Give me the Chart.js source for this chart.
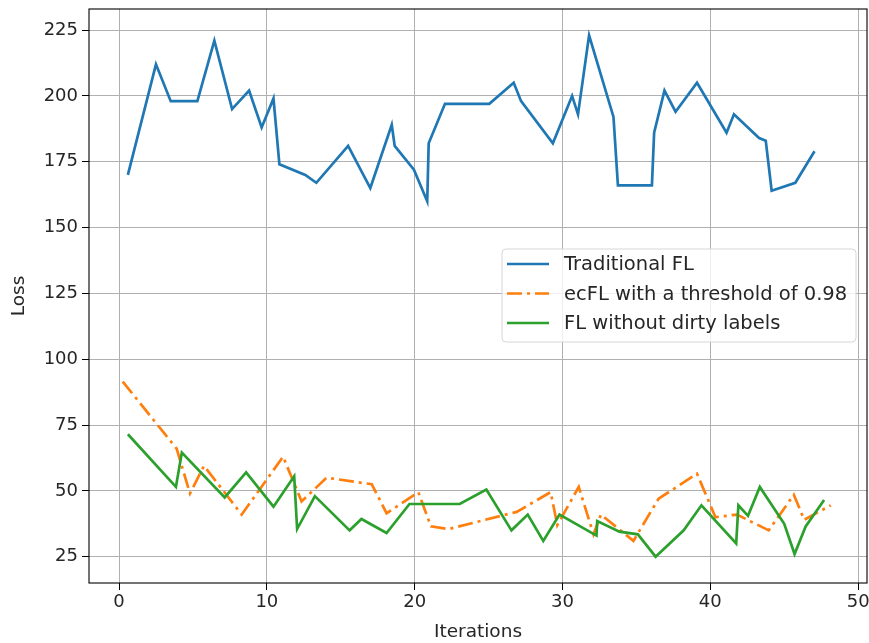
<!DOCTYPE html>
<html>
<head>
<meta charset="utf-8">
<script src="https://cdn.jsdelivr.net/npm/chart.js@4"></script>
<style>
  html, body { margin: 0; padding: 0; background: #fff; }
  #wrap { width: 869px; height: 643px; }
</style>
</head>
<body>
<div id="wrap"><canvas id="lossChart" width="869" height="643"></canvas></div>
<script>
// dati
const blueX = [0.6, 2.5, 3.5, 5.3, 6.45, 7.65, 8.8, 9.65, 10.45, 10.85, 12.6, 13.35, 15.5, 17.0, 18.45, 18.65, 19.95, 20.85, 20.95, 22.05, 25.05, 26.7, 27.2, 29.35, 30.65, 31.05, 31.8, 33.45, 33.75, 36.05, 36.2, 36.9, 37.65, 39.1, 41.1, 41.6, 43.3, 43.75, 44.15, 45.75, 47.05];
const blueY = [170, 212, 198, 198, 221, 195, 202, 188, 199, 174, 170, 167, 181, 165, 189, 181, 172, 160, 182, 197, 197, 205, 198, 182, 200, 193, 223, 192, 166, 166, 186, 202, 194, 205, 186, 193, 184, 183, 164, 167, 179];

const orangeX = [0.25, 3.9, 4.8, 5.75, 8.3, 11.1, 12.35, 14.05, 17.1, 18.1, 20.25, 21.1, 22.3, 26.9, 29.2, 29.65, 31.1, 32.1, 32.6, 34.8, 36.5, 39.1, 40.35, 41.8, 43.95, 45.65, 46.35, 48.15];
const orangeY = [91.5, 66, 49, 59.5, 41, 63, 46, 55, 52.5, 41.5, 49.5, 36.5, 35.5, 42, 49.5, 37, 51.5, 33.5, 41, 31, 47, 56.5, 40, 41, 35, 48.5, 39, 44.5];

const greenX = [0.6, 3.85, 4.25, 7.15, 8.6, 10.45, 11.85, 12.05, 13.25, 15.6, 16.4, 18.1, 19.65, 23.05, 24.85, 26.55, 27.65, 28.7, 29.8, 32.3, 32.35, 33.85, 35.1, 36.3, 38.2, 39.4, 41.75, 41.9, 42.55, 43.35, 45.0, 45.7, 46.45, 47.7];
const greenY = [71.5, 51.5, 64.5, 47.5, 57, 44, 55.5, 35.5, 48, 35, 39.3, 34, 45, 45, 50.5, 35, 41, 31, 41, 33, 38.5, 34.5, 33.5, 25, 35, 44.5, 30, 44.5, 40.5, 51.5, 37.5, 26, 36.5, 46.5];

const seriesNames = ['Traditional FL', 'ecFL with a threshold of 0.98', 'FL without dirty labels'];
const xTicks = [0, 10, 20, 30, 40, 50];
const yTicks = [25, 50, 75, 100, 125, 150, 175, 200, 225];

const colori = ['#1f77b4', '#ff7f0e', '#2ca02c'];
const dashDot = [15, 5, 3, 5];
const font = 'DejaVu Sans';

function punti(xs, ys) {
  return xs.map((x, i) => ({ x: x, y: ys[i] }));
}

// cornice completa + legenda stile matplotlib
const framePlugin = {
  id: 'frame',
  afterDraw: (chart) => {
    const ctx = chart.ctx;
    const a = chart.chartArea;
    ctx.save();
    ctx.strokeStyle = '#000';
    ctx.lineWidth = 1.1;
    ctx.strokeRect(a.left, a.top, a.right - a.left, a.bottom - a.top);

    // legenda
    const lx = 502, ly = 249, lw = 354, lh = 93, r = 4;
    ctx.globalAlpha = 0.8;
    ctx.fillStyle = '#fff';
    ctx.beginPath();
    ctx.roundRect(lx, ly, lw, lh, r);
    ctx.fill();
    ctx.globalAlpha = 1;
    ctx.strokeStyle = '#d6d6d6';
    ctx.lineWidth = 1;
    ctx.stroke();

    const rows = [264, 293.5, 323];
    ctx.font = '19.5px "' + font + '"';
    ctx.textBaseline = 'middle';
    rows.forEach((y, i) => {
      ctx.strokeStyle = colori[i];
      ctx.lineWidth = 2.7;
      ctx.setLineDash(i === 1 ? dashDot : []);
      ctx.beginPath();
      ctx.moveTo(507, y);
      ctx.lineTo(549, y);
      ctx.stroke();
      ctx.setLineDash([]);
      ctx.fillStyle = '#262626';
      ctx.fillText(seriesNames[i], 564, y + 1);
    });
    ctx.restore();
  }
};

let ctx = document.getElementById('lossChart').getContext('2d');

let myChart = new Chart(ctx, {
  type: 'line',
  data: {
    datasets: [
      { label: seriesNames[0], data: punti(blueX, blueY), borderColor: colori[0], borderWidth: 2.7, order: 2 },
      { label: seriesNames[1], data: punti(orangeX, orangeY), borderColor: colori[1], borderWidth: 2.7, borderDash: dashDot, order: 1 },
      { label: seriesNames[2], data: punti(greenX, greenY), borderColor: colori[2], borderWidth: 2.7, order: 0 }
    ]
  },
  options: {
    responsive: false,
    animation: false,
    devicePixelRatio: 1,
    layout: { padding: { left: 0, right: 2, top: 9, bottom: 0 } },
    elements: {
      point: { radius: 0 },
      line: { tension: 0, fill: false, borderJoinStyle: 'miter' }
    },
    plugins: {
      legend: { display: false },
      tooltip: { enabled: false }
    },
    scales: {
      x: {
        type: 'linear',
        min: -2.03,
        max: 50.6,
        afterBuildTicks: (s) => { s.ticks = xTicks.map(v => ({ value: v })); },
        afterFit: (s) => { s.height = 60; s.paddingLeft = 0; s.paddingRight = 0; },
        grid: { color: '#b0b0b0', lineWidth: 1, tickColor: '#000', tickLength: 7 },
        border: { display: false },
        ticks: { font: { family: font, size: 18 }, color: '#262626', padding: 2, maxRotation: 0 },
        title: { display: true, text: 'Iterations', font: { family: font, size: 18.5 }, color: '#262626', padding: { top: 0, bottom: 0 } }
      },
      y: {
        type: 'linear',
        min: 15,
        max: 233,
        afterBuildTicks: (s) => { s.ticks = yTicks.map(v => ({ value: v })); },
        afterFit: (s) => { s.width = 89; s.paddingTop = 0; s.paddingBottom = 0; },
        grid: { color: '#b0b0b0', lineWidth: 1, tickColor: '#000', tickLength: 7 },
        border: { display: false },
        ticks: { font: { family: font, size: 18 }, color: '#262626', padding: 4 },
        title: { display: true, text: 'Loss', font: { family: font, size: 18.5 }, color: '#262626', padding: { top: 8, bottom: 4 } }
      }
    }
  },
  plugins: [framePlugin]
});
</script>
</body>
</html>
